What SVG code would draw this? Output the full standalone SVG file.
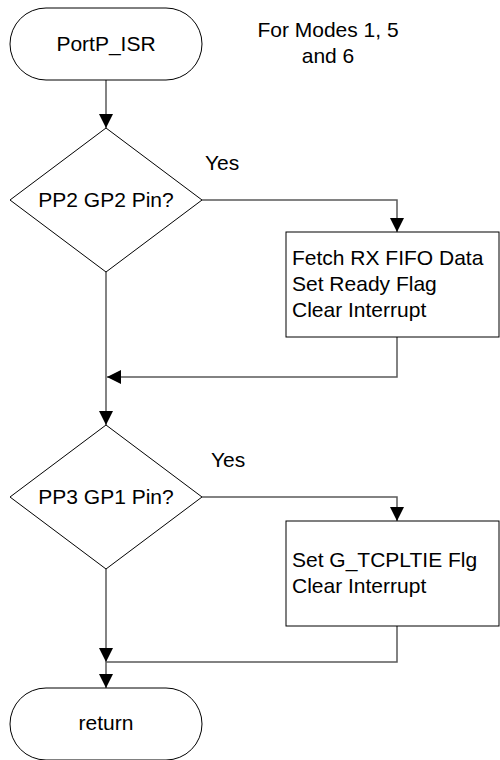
<svg xmlns="http://www.w3.org/2000/svg" width="500" height="760" viewBox="0 0 500 760">
<style>
.shape{fill:#fff;stroke:#000;stroke-width:1}
.conn{fill:none;stroke:#5a5a5a;stroke-width:1.5}
text{font-family:"Liberation Sans",Arial,sans-serif;font-size:21px;fill:#000}
.c{text-anchor:middle}
</style>
<defs>
<marker id="arr" viewBox="0 0 14 14" refX="14" refY="7" markerWidth="14" markerHeight="14" markerUnits="userSpaceOnUse" orient="auto">
<path d="M0,0 L14,7 L0,14 Z" fill="#000"/>
</marker>
</defs>
<g id="connectors">
<line class="conn" x1="106" y1="80" x2="106" y2="128" marker-end="url(#arr)"/>
<polyline class="conn" points="202,200 397,200 397,232" marker-end="url(#arr)"/>
<polyline class="conn" points="397,337 397,377 107,377" marker-end="url(#arr)"/>
<line class="conn" x1="106" y1="272" x2="106" y2="425" marker-end="url(#arr)"/>
<polyline class="conn" points="202,497 397,497 397,521" marker-end="url(#arr)"/>
<line class="conn" x1="106" y1="569" x2="106" y2="662" marker-end="url(#arr)"/>
<polyline class="conn" points="397,626 397,662 106,662"/>
<line class="conn" x1="106" y1="662" x2="106" y2="688" marker-end="url(#arr)"/>
</g>
<g id="start">
<rect class="shape" x="10" y="8" width="192" height="72" rx="36" ry="36"/>
<text class="c" x="106" y="51">PortP_ISR</text>
</g>
<g id="note">
<text class="c" x="328" y="37">For Modes 1, 5</text>
<text class="c" x="328" y="63">and 6</text>
</g>
<g id="decision1">
<polygon class="shape" points="106,128 202,200 106,272 10,200"/>
<text class="c" x="106" y="207">PP2 GP2 Pin?</text>
</g>
<g id="yes1"><text x="205" y="170">Yes</text></g>
<g id="process1">
<rect class="shape" x="286" y="232" width="213" height="105"/>
<text x="292" y="265">Fetch RX FIFO Data</text>
<text x="292" y="291">Set Ready Flag</text>
<text x="292" y="317">Clear Interrupt</text>
</g>
<g id="decision2">
<polygon class="shape" points="106,425 202,497 106,569 10,497"/>
<text class="c" x="106" y="504">PP3 GP1 Pin?</text>
</g>
<g id="yes2"><text x="211" y="467">Yes</text></g>
<g id="process2">
<rect class="shape" x="286" y="521" width="213" height="105"/>
<text x="292" y="567">Set G_TCPLTIE Flg</text>
<text x="292" y="593">Clear Interrupt</text>
</g>
<g id="end">
<rect class="shape" x="10" y="688" width="192" height="72" rx="36" ry="36"/>
<text class="c" x="106" y="730">return</text>
</g>
</svg>
